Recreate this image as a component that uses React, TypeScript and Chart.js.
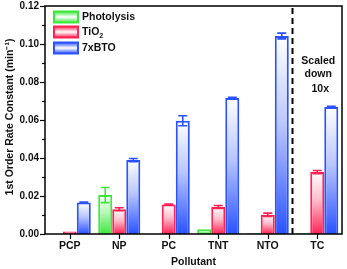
import React, { useEffect, useRef } from "react";
import { Chart, registerables } from "chart.js";

Chart.register(...registerables);

const categories = ["PCP", "NP", "PC", "TNT", "NTO", "TC"];
const seriesLabels = ["Photolysis", "TiO2", "7xBTO"];
const photolysis = [0, 0.0205, 0, 0.0025, 0.0004, 0.0004];
const photolysisErr = [0, 0.004, 0, 0, 0, 0];
const tio2 = [0.0013, 0.013, 0.0155, 0.0142, 0.0101, 0.0326];
const tio2Err = [0, 0.0008, 0.0002, 0.0008, 0.0009, 0.0008];
const bto = [0.0166, 0.0389, 0.0596, 0.0716, 0.1042, 0.0668];
const btoErr = [0.0002, 0.0008, 0.0026, 0.0004, 0.0015, 0.0004];
const yTicks = [0, 0.02, 0.04, 0.06, 0.08, 0.1, 0.12];
const xTitle = "Pollutant";
const yTitle = "1st Order Rate Constant (min\u207B\u00B9)";
const note = ["Scaled", "down", "10x"];

const COLORS = [
  { line: "#3de83d", mid: "#b6f7b6", top: "#ffffff" },
  { line: "#ff2255", mid: "#ffbccb", top: "#ffffff" },
  { line: "#2a52ff", mid: "#b9c6ff", top: "#ffffff" },
];
const errs = [photolysisErr, tio2Err, btoErr];
const FONT = "'Liberation Sans', Arial, sans-serif";

export default function App() {
  const ref = useRef<HTMLCanvasElement | null>(null);

  useEffect(() => {
    document.body.style.margin = "0";
    const canvas = ref.current!;
    const grad = (ci: number) => (ctx: any) => {
      const chart = ctx.chart;
      const y = chart.scales?.y;
      if (!y || ctx.type !== "data") return COLORS[ci].line;
      const v = ctx.raw as number;
      const top = y.getPixelForValue(v);
      const bot = y.getPixelForValue(0);
      if (!isFinite(top) || bot - top < 1) return COLORS[ci].line;
      const g = chart.ctx.createLinearGradient(0, top, 0, bot);
      g.addColorStop(0, COLORS[ci].top);
      g.addColorStop(0.45, COLORS[ci].mid);
      g.addColorStop(1, COLORS[ci].line);
      return g;
    };

    const extras = {
      id: "extras",
      afterDatasetsDraw(chart: any) {
        const ctx = chart.ctx;
        const y = chart.scales.y;
        const x = chart.scales.x;
        const area = chart.chartArea;
        ctx.save();
        // error bars
        for (let d = 0; d < 3; d++) {
          const meta = chart.getDatasetMeta(d);
          const vals = chart.data.datasets[d].data as number[];
          meta.data.forEach((bar: any, i: number) => {
            const e = errs[d][i];
            if (!e) return;
            const v = vals[i];
            const y1 = y.getPixelForValue(v + e);
            const y2 = y.getPixelForValue(v - e);
            ctx.strokeStyle = COLORS[d].line;
            ctx.lineWidth = 1.6;
            ctx.beginPath();
            ctx.moveTo(bar.x, y1);
            ctx.lineTo(bar.x, y2);
            ctx.moveTo(bar.x - 4.5, y1);
            ctx.lineTo(bar.x + 4.5, y1);
            ctx.moveTo(bar.x - 4.5, y2);
            ctx.lineTo(bar.x + 4.5, y2);
            ctx.stroke();
          });
        }
        // frame
        ctx.strokeStyle = "#000";
        ctx.lineWidth = 1.5;
        ctx.strokeRect(area.left, area.top, area.right - area.left, area.bottom - area.top);
        // y ticks major + minor
        ctx.lineWidth = 1.2;
        for (let v = 0; v <= 0.1201; v += 0.01) {
          const py = Math.round(y.getPixelForValue(v)) + 0.5;
          const major = Math.round(v * 100) % 2 === 0;
          ctx.beginPath();
          ctx.moveTo(area.left, py);
          ctx.lineTo(area.left - (major ? 5 : 3), py);
          ctx.stroke();
        }
        // x ticks
        categories.forEach((_, i) => {
          const px = Math.round(x.getPixelForValue(i)) + 0.5;
          ctx.beginPath();
          ctx.moveTo(px, area.bottom);
          ctx.lineTo(px, area.bottom + 5);
          ctx.stroke();
        });
        // dashed separator
        const sep = (x.getPixelForValue(4) + x.getPixelForValue(5)) / 2;
        ctx.setLineDash([6, 4]);
        ctx.lineWidth = 2;
        ctx.beginPath();
        ctx.moveTo(sep, area.top + 2);
        ctx.lineTo(sep, area.bottom);
        ctx.stroke();
        ctx.setLineDash([]);
        // Scaled down text
        ctx.fillStyle = "#111";
        ctx.font = `bold 10.5px ${FONT}`;
        ctx.textAlign = "center";
        ctx.textBaseline = "middle";
        const tx = x.getPixelForValue(5) + 1;
        ctx.fillText(note[0], tx, area.top + 55);
        ctx.fillText(note[1], tx, area.top + 68);
        ctx.fillText(note[2], tx + 2, area.top + 83);
        // axis titles
        ctx.fillText(xTitle, (area.left + area.right) / 2, 262);
        ctx.save();
        ctx.translate(10, (area.top + area.bottom) / 2 - 3);
        ctx.rotate(-Math.PI / 2);
        ctx.fillText(yTitle, 0, 0);
        ctx.restore();
        // legend
        const lx = area.left + 9;
        const rows = [11, 26, 42];
        for (let d = 0; d < 3; d++) {
          const cy = area.top + rows[d];
          const g = ctx.createLinearGradient(0, cy - 5.5, 0, cy + 5.5);
          g.addColorStop(0, COLORS[d].line);
          g.addColorStop(0.5, COLORS[d].top);
          g.addColorStop(1, COLORS[d].line);
          ctx.fillStyle = g;
          ctx.fillRect(lx, cy - 5.5, 24, 11);
          ctx.strokeStyle = COLORS[d].line;
          ctx.lineWidth = 2;
          ctx.strokeRect(lx, cy - 5.5, 24, 11);
          ctx.fillStyle = "#111";
          ctx.font = `bold 10.5px ${FONT}`;
          ctx.textAlign = "left";
          ctx.textBaseline = "middle";
          const label = chart.data.datasets[d].label as string;
          if (label === "TiO2") {
            ctx.fillText("TiO", lx + 28, cy);
            const w = ctx.measureText("TiO").width;
            ctx.font = `bold 7px ${FONT}`;
            ctx.fillText("2", lx + 28 + w, cy + 4);
          } else {
            ctx.fillText(label, lx + 28, cy);
          }
        }
        ctx.restore();
      },
    };

    const chart = new Chart(canvas, {
      type: "bar",
      data: {
        labels: categories,
        datasets: [photolysis, tio2, bto].map((data, i) => ({
          label: seriesLabels[i],
          data,
          backgroundColor: grad(i),
          borderColor: COLORS[i].line,
          borderWidth: 2,
          borderSkipped: "start" as const,
          categoryPercentage: 0.85,
          barPercentage: 1,
        })),
      },
      options: {
        responsive: false,
        animation: false,
        devicePixelRatio: 1,
        layout: { padding: { top: 6, right: 5, left: 0, bottom: 0 } },
        plugins: {
          legend: { display: false },
          tooltip: { enabled: false },
        },
        scales: {
          x: {
            grid: { display: false, drawTicks: false },
            border: { display: false },
            ticks: {
              color: "#111",
              font: { family: FONT, weight: "bold", size: 10.5 },
              padding: 6,
              maxRotation: 0,
            },
            afterFit: (s: any) => {
              s.height = 35;
              s.paddingLeft = 0;
              s.paddingRight = 0;
            },
          },
          y: {
            min: 0,
            max: 0.12,
            afterBuildTicks: (s: any) => {
              s.ticks = yTicks.map((v) => ({ value: v }));
            },
            grid: { display: false, drawTicks: false },
            border: { display: false },
            ticks: {
              color: "#111",
              font: { family: FONT, weight: "bold", size: 10 },
              padding: 6,
              callback: (v: any) => Number(v).toFixed(2),
            },
            afterFit: (s: any) => {
              s.width = 45;
              s.paddingTop = 0;
              s.paddingBottom = 0;
            },
          },
        },
      },
      plugins: [extras],
    });
    return () => chart.destroy();
  }, []);

  return (
    <div style={{ width: 347, height: 269, background: "#fff" }}>
      <canvas ref={ref} width={347} height={269} style={{ display: "block" }} />
    </div>
  );
}
